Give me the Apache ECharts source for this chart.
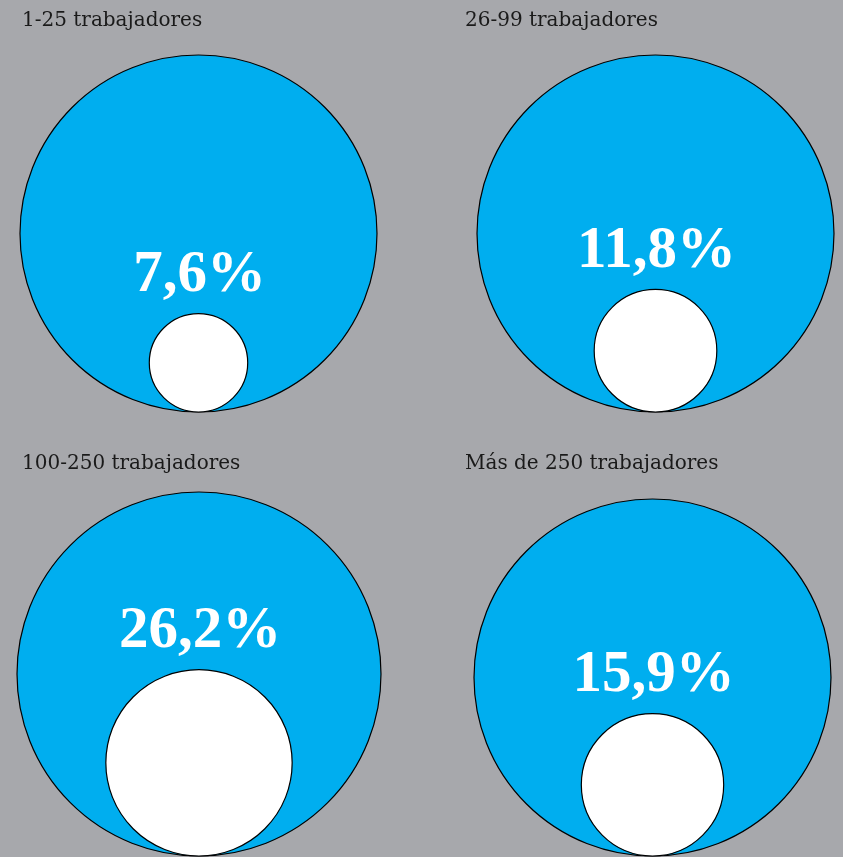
<!DOCTYPE html>
<html lang="es">
<head>
    <meta charset="UTF-8">
    <title>Trabajadores</title>
    <script type="text/javascript" src="https://cdn.jsdelivr.net/npm/echarts@6/dist/echarts.min.js"></script>
    <style>
        html, body { margin: 0; padding: 0; background: #a7a8ac; }
    </style>
</head>
<body>
<div id="main" style="width: 843px;height:857px;"></div>

<script type="text/javascript">
    // datos
    var categories = ['1-25 trabajadores', '26-99 trabajadores', '100-250 trabajadores', 'Más de 250 trabajadores'];
    var shares = [7.6, 11.8, 26.2, 15.9];
    var shareLabels = ['7,6%', '11,8%', '26,2%', '15,9%'];

    // una rejilla cuadrada por panel
    var panels = [
        {left: 20, top: 55, size: 357, titleLeft: 22, titleTop: 11},
        {left: 477, top: 55, size: 357, titleLeft: 465, titleTop: 11},
        {left: 17, top: 492, size: 364, titleLeft: 22, titleTop: 454},
        {left: 474, top: 499, size: 357, titleLeft: 465, titleTop: 454}
    ];

    var chartDom = document.getElementById('main');
    var myChart = echarts.init(chartDom);

    function renderCircle(params, api) {
        var center = api.coord([api.value(0), api.value(1)]);
        var r = api.size([1, 1])[0];
        var share = api.value(2);
        // el área del círculo blanco es proporcional al porcentaje
        var ri = r * Math.sqrt(share / 100);
        var cyInner = center[1] + r - ri;
        return {
            type: 'group',
            children: [
                {
                    type: 'circle',
                    shape: {cx: center[0], cy: center[1], r: r},
                    style: {fill: '#00aeef', stroke: '#000', lineWidth: 1.2}
                },
                {
                    type: 'circle',
                    shape: {cx: center[0], cy: cyInner, r: ri},
                    style: {fill: '#fff', stroke: '#000', lineWidth: 1.2}
                },
                {
                    type: 'text',
                    style: {
                        x: center[0] + 1,
                        y: cyInner - ri - 38,
                        text: shareLabels[params.seriesIndex],
                        align: 'center',
                        verticalAlign: 'middle',
                        fill: '#fff',
                        fontFamily: 'Liberation Serif',
                        fontWeight: 'bold',
                        fontSize: 59
                    }
                }
            ]
        };
    }

    var option = {
        backgroundColor: '#a7a8ac',
        animation: false,
        title: panels.map(function (p, i) {
            return {
                text: categories[i],
                left: p.titleLeft,
                top: p.titleTop,
                padding: 0,
                textStyle: {
                    fontFamily: 'DejaVu Serif',
                    fontWeight: 'normal',
                    fontSize: 20,
                    color: '#1a1a1a'
                }
            };
        }),
        grid: panels.map(function (p) {
            return {left: p.left, top: p.top, width: p.size, height: p.size};
        }),
        xAxis: panels.map(function (p, i) {
            return {type: 'value', gridIndex: i, min: -1, max: 1, show: false};
        }),
        yAxis: panels.map(function (p, i) {
            return {type: 'value', gridIndex: i, min: -1, max: 1, show: false};
        }),
        series: shares.map(function (v, i) {
            return {
                name: categories[i],
                type: 'custom',
                xAxisIndex: i,
                yAxisIndex: i,
                clip: false,
                renderItem: renderCircle,
                data: [[0, 0, v]]
            };
        })
    };

    option && myChart.setOption(option);
</script>
</body>
</html>
